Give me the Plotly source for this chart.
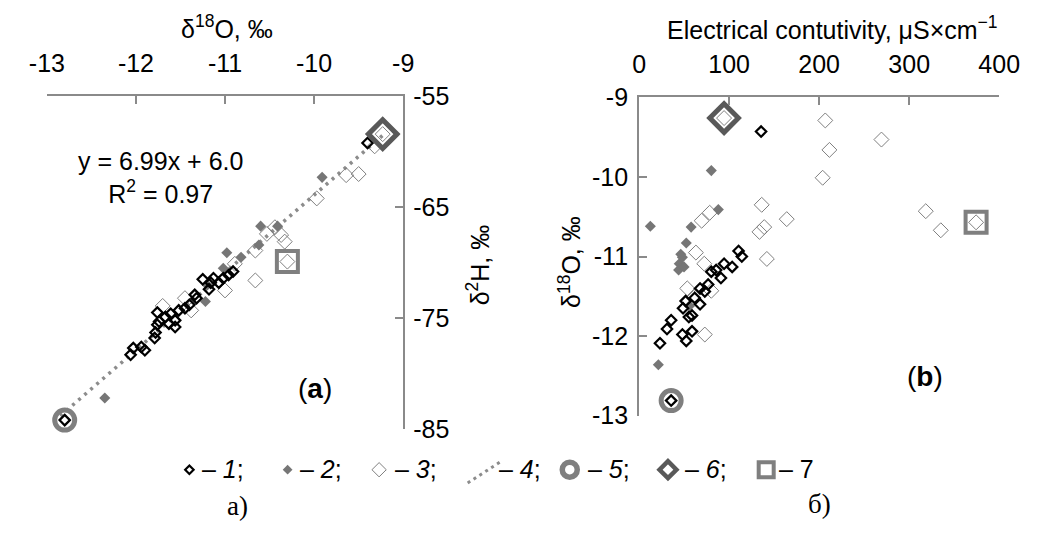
import plotly.graph_objects as go

# ---------------- data ----------------
# Panel (a): δ18O (x) vs δ2H (y)
a1_x = [-12.80, -12.06, -12.03, -11.94, -11.90, -11.79, -11.78, -11.76, -11.76, -11.74,
        -11.67, -11.63, -11.61, -11.56, -11.56, -11.52, -11.45, -11.40, -11.34, -11.32,
        -11.25, -11.18, -11.16, -11.13, -11.07, -11.02, -10.96, -10.91, -9.40]
a1_y = [-84.2, -78.3, -77.7, -77.6, -77.9, -76.8, -76.3, -75.6, -74.5, -75.3,
        -74.9, -75.5, -74.6, -75.2, -75.8, -74.3, -74.1, -73.8, -72.9, -73.2,
        -71.5, -72.4, -71.8, -71.4, -71.8, -71.4, -71.1, -70.8, -59.2]
a2_x = [-12.35, -11.22, -11.20, -11.02, -10.98, -10.82, -10.62, -10.60, -10.41, -9.91]
a2_y = [-82.2, -73.5, -72.0, -70.5, -69.1, -69.5, -68.4, -66.7, -66.7, -62.3]
a3_x = [-9.64, -9.50, -9.97, -10.53, -10.44, -10.37, -10.33, -10.66, -10.66, -10.30,
        -10.89, -11.00, -11.38, -11.45, -11.70, -9.23, -9.32]
a3_y = [-62.1, -62.0, -64.2, -67.4, -66.8, -67.5, -68.1, -68.9, -71.6, -69.9,
        -70.1, -72.5, -74.3, -73.2, -73.9, -58.4, -59.5]
a5_x, a5_y = [-12.80], [-84.2]
a6_x, a6_y = [-9.23], [-58.4]
a7_x, a7_y = [-10.30], [-69.9]

# Regression line of panel (a): y = 6.99x + 6.0
trend_slope, trend_icept = 6.99, 6.0
trend_x = [-12.85, -9.2]
trend_y = [trend_slope * v + trend_icept for v in trend_x]

# Panel (b): electrical conductivity (x) vs δ18O (y)
b1_x = [35.6, 23.2, 31.0, 35.6, 48.8, 48.1, 52.4, 58.8, 51.7, 55.3, 58.8, 61.7, 67.7,
        67.7, 73.0, 76.7, 80.2, 85.6, 90.9, 94.4, 103.4, 110.5, 114.1, 135.5]
b1_y = [-12.81, -12.09, -11.91, -11.80, -11.65, -11.98, -12.06, -11.94, -11.56, -11.76,
        -11.74, -11.52, -11.60, -11.40, -11.44, -11.35, -11.19, -11.17, -11.27, -11.09,
        -11.13, -10.93, -11.00, -9.43]
b2_x = [12.5, 21.4, 80.2, 88.0, 57.8, 52.4, 46.3, 44.6, 43.9, 49.9, 48.1, 56.0]
b2_y = [-10.62, -12.36, -9.92, -10.41, -10.63, -10.83, -10.97, -11.09, -11.17, -11.13,
        -11.01, -11.62]
b3_x = [206.8, 269.2, 211.4, 203.9, 136.2, 164.0, 133.7, 139.0, 141.9, 318.4, 335.1,
        374.3, 69.5, 78.4, 63.1, 72.4, 53.5, 60.6, 80.2, 73.0, 94.4]
b3_y = [-9.29, -9.53, -9.66, -10.01, -10.35, -10.53, -10.69, -10.63, -11.03, -10.43,
        -10.67, -10.57, -10.55, -10.45, -10.95, -11.09, -11.40, -11.52, -11.43, -11.98,
        -9.26]
b5_x, b5_y = [35.6], [-12.81]
b6_x, b6_y = [94.4], [-9.26]
b7_x, b7_y = [374.3], [-10.57]

# tick labels (plain hyphen minus)
a_xticks = [-13, -12, -11, -10, -9]
a_xtick_text = ["-13", "-12", "-11", "-10", "-9"]
a_yticks = [-85, -75, -65, -55]
a_ytick_text = ["-85", "-75", "-65", "-55"]
b_xticks = [0, 100, 200, 300, 400]
b_xtick_text = ["0", "100", "200", "300", "400"]
b_yticks = [-13, -12, -11, -10, -9]
b_ytick_text = ["-13", "-12", "-11", "-10", "-9"]

legend_labels = ["– <i>1</i>;", "– <i>2</i>;", "– <i>3</i>;", "– <i>4</i>;",
                 "– <i>5</i>;", "– <i>6</i>;", "– 7"]

# ---------------- styles ----------------
W, H = 1052, 533
FONT = "Liberation Sans, Arial, sans-serif"
FS = 25
AXIS_GRAY = "#8a8a8a"
GRAY = "#7f7f7f"
DARK = "#595959"

STY1 = dict(symbol="diamond-open", size=8, color="black", line=dict(width=2.2, color="black"))
STY2 = dict(symbol="diamond", size=8.5, color="#767676", line=dict(width=0))
STY3 = dict(symbol="diamond-open", size=11.5, color=GRAY, line=dict(width=1, color=GRAY))
STY5 = dict(symbol="circle-open", size=20, color=GRAY, line=dict(width=5, color=GRAY))
STY6 = dict(symbol="diamond-open", size=22, color=DARK, line=dict(width=5, color=DARK))
STY7 = dict(symbol="square-open", size=21, color=GRAY, line=dict(width=4, color=GRAY))
TREND_LINE = dict(color="#8c8c8c", width=3.5, dash="3px,5px")


def px_x(p):
    return p / W


def px_y(p):
    return 1 - p / H


fig = go.Figure()


def pts(x, y, sty, xa, ya):
    fig.add_trace(go.Scatter(x=x, y=y, mode="markers", marker=sty, xaxis=xa, yaxis=ya,
                             cliponaxis=False, showlegend=False, hoverinfo="x+y"))


# panel (a)
fig.add_trace(go.Scatter(x=trend_x, y=trend_y, mode="lines", line=TREND_LINE,
                         xaxis="x", yaxis="y", showlegend=False, hoverinfo="skip"))
pts(a3_x, a3_y, STY3, "x", "y")
pts(a2_x, a2_y, STY2, "x", "y")
pts(a1_x, a1_y, STY1, "x", "y")
pts(a5_x, a5_y, STY5, "x", "y")
pts(a6_x, a6_y, STY6, "x", "y")
pts(a7_x, a7_y, STY7, "x", "y")

# panel (b)
pts(b3_x, b3_y, STY3, "x2", "y2")
pts(b2_x, b2_y, STY2, "x2", "y2")
pts(b1_x, b1_y, STY1, "x2", "y2")
pts(b5_x, b5_y, STY5, "x2", "y2")
pts(b6_x, b6_y, STY6, "x2", "y2")
pts(b7_x, b7_y, STY7, "x2", "y2")

# legend row drawn on a pixel-scaled strip axis at the bottom
LEG_TOP = 445
leg_keys_x = [178, 280, 375, None, 573, 675, 777]
leg_text_x = [189, 291, 389, 497, 590, 691, 788]
LEG_Y = 480
leg_styles = [dict(STY1, size=6.5), dict(STY2, size=7.5), dict(STY3, size=11), None,
              dict(STY5, size=15, line=dict(width=5.5, color=GRAY)),
              dict(STY6, size=13, line=dict(width=4.5, color=DARK)),
              dict(STY7, size=15, line=dict(width=4, color=GRAY))]
for kx, st in zip(leg_keys_x, leg_styles):
    if st is None:
        continue
    fig.add_trace(go.Scatter(x=[kx], y=[LEG_Y + 1], mode="markers", marker=st,
                             xaxis="x3", yaxis="y3", showlegend=False, hoverinfo="skip",
                             cliponaxis=False))
fig.add_trace(go.Scatter(x=[467, 502], y=[495, 472], mode="lines",
                         line=dict(color="#8c8c8c", width=3, dash="3px,4px"),
                         xaxis="x3", yaxis="y3", showlegend=False, hoverinfo="skip",
                         cliponaxis=False))

tick_common = dict(showline=True, linecolor=AXIS_GRAY, linewidth=2, ticks="inside",
                   ticklen=8, tickwidth=2, tickcolor=AXIS_GRAY, showgrid=False,
                   zeroline=False, tickfont=dict(family=FONT, size=FS, color="black"),
                   fixedrange=True)

fig.update_layout(
    width=W, height=H,
    margin=dict(l=0, r=0, t=0, b=0),
    paper_bgcolor="white", plot_bgcolor="rgba(0,0,0,0)",
    font=dict(family=FONT, size=FS, color="black"),
    xaxis=dict(domain=[px_x(30), px_x(400)], range=[-13, -9], side="top", anchor="y",
               tickvals=a_xticks, ticktext=a_xtick_text, ticklabelstandoff=12, **tick_common),
    yaxis=dict(domain=[px_y(438), px_y(87)], range=[-85, -55], side="right", anchor="x",
               tickvals=a_yticks, ticktext=a_ytick_text, ticklabelstandoff=3, **tick_common),
    xaxis2=dict(domain=[px_x(645), px_x(1019)], range=[0, 400], side="top", anchor="y2",
                tickvals=b_xticks, ticktext=b_xtick_text, ticklabelstandoff=12, **tick_common),
    yaxis2=dict(domain=[px_y(424), px_y(88)], range=[-13, -9], side="left", anchor="x2",
                tickvals=b_yticks, ticktext=b_ytick_text, ticklabelstandoff=4, **tick_common),
    xaxis3=dict(domain=[0, 1], range=[0, W], visible=False, anchor="y3", fixedrange=True),
    yaxis3=dict(domain=[0, px_y(LEG_TOP)], range=[H, LEG_TOP], visible=False, anchor="x3",
                fixedrange=True),
)

annotations = [
    dict(text="δ<sup>18</sup>O, ‰", x=217, y=14, size=FS),
    dict(text="Electrical contutivity, μS×cm<sup>−1</sup>", x=846, y=15, size=FS),
    dict(text="δ<sup>2</sup>H, ‰", x=478, y=265, size=FS, angle=-90),
    dict(text="δ<sup>18</sup>O, ‰", x=573, y=262, size=FS, angle=-90),
    dict(text="y = 6.99x + 6.0<br>R<sup>2</sup> = 0.97", x=148, y=173, size=25),
    dict(text="(<b>a</b>)", x=308, y=395, size=28),
    dict(text="(<b>b</b>)", x=942, y=383, size=28),
]
for a in annotations:
    fig.add_annotation(text=a["text"], x=px_x(a["x"]), y=px_y(a["y"]), xref="paper",
                       yref="paper", showarrow=False, xanchor="center", yanchor="middle",
                       textangle=a.get("angle", 0),
                       font=dict(family=FONT, size=a["size"], color="black"))

for tx, lab in zip(leg_text_x, legend_labels):
    fig.add_annotation(text=lab, x=px_x(tx), y=px_y(LEG_Y), xref="paper", yref="paper",
                       showarrow=False, xanchor="left", yanchor="middle",
                       font=dict(family=FONT, size=FS, color="black"))

SERIF = "Liberation Serif, Times New Roman, serif"
for lab, x, y in [("а)", 228, 519), ("б)", 832, 517)]:
    fig.add_annotation(text=lab, x=px_x(x), y=px_y(y), xref="paper", yref="paper",
                       showarrow=False, xanchor="center", yanchor="middle",
                       font=dict(family=SERIF, size=27, color="black"))

fig.write_html("out.html")
